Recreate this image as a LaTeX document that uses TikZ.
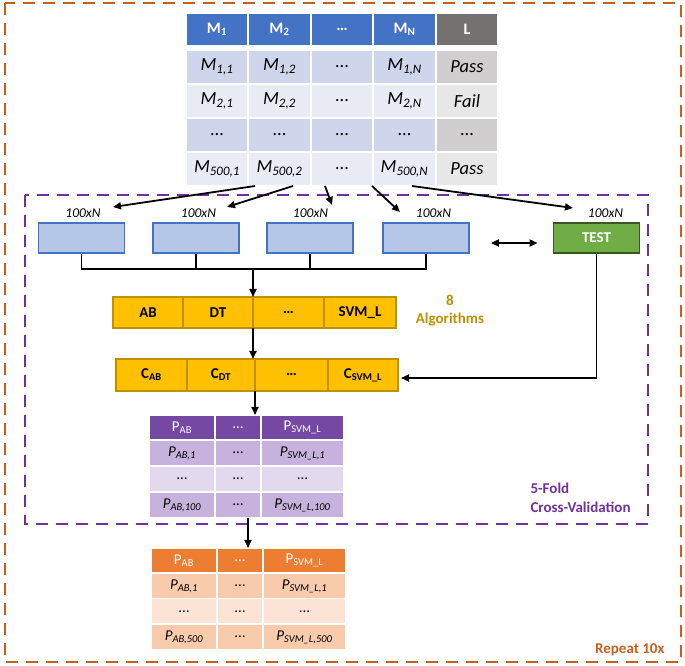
\documentclass[tikz,border=0pt]{standalone}
\usepackage{fontspec}
\setmainfont{Carlito}
\usetikzlibrary{arrows.meta}

\tikzset{
  cell/.style={draw=white, line width=1.5pt, inner sep=0pt, outer sep=0pt},
  topcell/.style={cell, minimum width=62.4pt, minimum height=34pt, font=\fontsize{18.5}{21}\selectfont},
  tophead/.style={topcell, minimum height=33pt, text=white, font=\fontsize{16}{19}\selectfont\bfseries},
  foldbox/.style={draw=hdBlue, line width=1.8pt, fill=boxBlue, minimum width=86pt, minimum height=30pt, inner sep=0pt},
  testbox/.style={foldbox, draw=testDark, fill=testGreen, text=white, font=\fontsize{15}{18}\selectfont\bfseries},
  foldlab/.style={inner sep=0pt, font=\fontsize{13.5}{16}\selectfont\itshape},
  algcell/.style={draw=goldDark, line width=1.8pt, fill=gold, inner sep=0pt, outer sep=0pt, minimum height=31pt, font=\fontsize{15}{18}\selectfont\bfseries},
  pcell/.style={cell, minimum height=26pt, font=\fontsize{15}{18}\selectfont},
  phead/.style={pcell, minimum height=25pt, text=white},
  conn/.style={line width=1.8pt, draw=black},
  arr/.style={conn, -{Triangle[length=8pt,width=7pt]}},
  frame/.style={line width=2.8pt, dash pattern=on 12pt off 8pt}
}

\begin{document}
\begin{tikzpicture}[x=1pt,y=1pt]
\definecolor{hdBlue}{RGB}{68,114,196}
\definecolor{rowBlueA}{RGB}{207,213,234}
\definecolor{rowBlueB}{RGB}{233,235,245}
\definecolor{hdGray}{RGB}{118,113,113}
\definecolor{rowGrayA}{RGB}{208,206,206}
\definecolor{rowGrayB}{RGB}{232,231,231}
\definecolor{boxBlue}{RGB}{180,199,231}
\definecolor{testGreen}{RGB}{112,173,71}
\definecolor{testDark}{RGB}{56,87,35}
\definecolor{gold}{RGB}{255,192,0}
\definecolor{goldDark}{RGB}{191,144,0}
\definecolor{cvPurple}{RGB}{112,48,160}
\definecolor{pHead}{RGB}{117,72,163}
\definecolor{pRowA}{RGB}{199,178,221}
\definecolor{pRowB}{RGB}{227,217,239}
\definecolor{oHead}{RGB}{237,125,49}
\definecolor{oRowA}{RGB}{248,203,173}
\definecolor{oRowB}{RGB}{251,228,213}
\definecolor{repOrange}{RGB}{200,95,30}
\path[use as bounding box,fill=white] (0,0) rectangle (685,666);

% outer and cross-validation frames
\draw[frame,draw=repOrange] (5,663) rectangle (681,4);
\draw[frame,draw=cvPurple] (25,471) rectangle (648,142);

% data table
\node[tophead,fill=hdBlue] (hd1) at (217.0,636.5) {M\textsubscript{1}};
\node[tophead,fill=hdBlue] (hd2) at (279.5,636.5) {M\textsubscript{2}};
\node[tophead,fill=hdBlue] (hd3) at (342.0,636.5) {…};
\node[tophead,fill=hdBlue] (hd4) at (404.5,636.5) {M\textsubscript{N}};
\node[tophead,fill=hdGray] (hd5) at (467.0,636.5) {L};

\node[topcell,fill=rowBlueA] (r1c1) at (217.0,599) {\textit{M\textsubscript{1,1}}};
\node[topcell,fill=rowBlueA] (r1c2) at (279.5,599) {\textit{M\textsubscript{1,2}}};
\node[topcell,fill=rowBlueA] (r1c3) at (342.0,599) {…};
\node[topcell,fill=rowBlueA] (r1c4) at (404.5,599) {\textit{M\textsubscript{1,N}}};
\node[topcell,fill=rowGrayA] (r1c5) at (467.0,599) {\textit{Pass}};

\node[topcell,fill=rowBlueB] (r2c1) at (217.0,565) {\textit{M\textsubscript{2,1}}};
\node[topcell,fill=rowBlueB] (r2c2) at (279.5,565) {\textit{M\textsubscript{2,2}}};
\node[topcell,fill=rowBlueB] (r2c3) at (342.0,565) {…};
\node[topcell,fill=rowBlueB] (r2c4) at (404.5,565) {\textit{M\textsubscript{2,N}}};
\node[topcell,fill=rowGrayB] (r2c5) at (467.0,565) {\textit{Fail}};

\node[topcell,fill=rowBlueA] (r3c1) at (217.0,531) {…};
\node[topcell,fill=rowBlueA] (r3c2) at (279.5,531) {…};
\node[topcell,fill=rowBlueA] (r3c3) at (342.0,531) {…};
\node[topcell,fill=rowBlueA] (r3c4) at (404.5,531) {…};
\node[topcell,fill=rowGrayA] (r3c5) at (467.0,531) {…};

\node[topcell,fill=rowBlueB] (r4c1) at (217.0,497) {\textit{M\textsubscript{500,1}}};
\node[topcell,fill=rowBlueB] (r4c2) at (279.5,497) {\textit{M\textsubscript{500,2}}};
\node[topcell,fill=rowBlueB] (r4c3) at (342.0,497) {…};
\node[topcell,fill=rowBlueB] (r4c4) at (404.5,497) {\textit{M\textsubscript{500,N}}};
\node[topcell,fill=rowGrayB] (r4c5) at (467.0,497) {\textit{Pass}};

% folds
\node[foldbox] (b1) at (81.5,428) {};
\node[foldbox] (b2) at (196.0,428) {};
\node[foldbox] (b3) at (310.0,428) {};
\node[foldbox] (b4) at (426.0,428) {};
\node[testbox] (test) at (596.5,428) {TEST};

\node[foldlab] (lb1) at (83.0,452.5) {100xN};
\node[foldlab] (lb2) at (198.5,452.5) {100xN};
\node[foldlab] (lb3) at (310.5,452.5) {100xN};
\node[foldlab] (lb4) at (433.5,452.5) {100xN};
\node[foldlab] (lb5) at (605.5,452.5) {100xN};

\coordinate (e1) at (113,459);
\coordinate (e2) at (227,459);
\coordinate (e3) at (332,461);
\coordinate (e4) at (400,454);
\coordinate (e5) at (573,458);

\draw[arr] ([xshift=-24.5pt]r4c2.south) -- (e1);
\draw[arr] ([xshift=13.5pt]r4c2.south) -- (e2);
\draw[arr] ([xshift=-17pt]r4c3.south) -- (e3);
\draw[arr] ([xshift=30pt]r4c3.south) -- (e4);
\draw[arr] ([xshift=7.5pt]r4c4.south) -- (e5);

\draw[conn,{Triangle[length=8pt,width=7pt]}-{Triangle[length=8pt,width=7pt]},shorten <=21pt,shorten >=15pt]
  ([yshift=-5pt]b4.east) -- ([yshift=-5pt]test.west);

% algorithms
\node[algcell,minimum width=70pt] (a1) at (148.0,353.5) {AB};
\node[algcell,minimum width=70pt] (a2) at (218.0,353.5) {DT};
\node[algcell,minimum width=71pt] (a3) at (288.5,353.5) {…};
\node[algcell,minimum width=72pt] (a4) at (360.0,353.5) {SVM\_L};

\node[algcell,minimum width=71pt,minimum height=32pt] (c1) at (151.5,291) {C\textsubscript{AB}};
\node[algcell,minimum width=68pt,minimum height=32pt] (c2) at (221.0,291) {C\textsubscript{DT}};
\node[algcell,minimum width=73pt,minimum height=32pt] (c3) at (291.5,291) {…};
\node[algcell,minimum width=70pt,minimum height=32pt] (c4) at (363.0,291) {C\textsubscript{SVM\_L}};

\node[align=center,text=goldDark,font=\fontsize{15}{18}\selectfont\bfseries] (nalg) at (450,355) {8\\Algorithms};

% bus from the folds
\coordinate (bus) at (254,397);
\draw[conn] (b1.south) -- (b1.south |- bus) -- (b4.south |- bus) -- (b4.south);
\draw[conn] (b2.south) -- (b2.south |- bus);
\draw[conn] (b3.south) -- (b3.south |- bus);
\draw[arr] (a2.north east |- bus) -- (a2.north east);
\draw[arr] (a2.south east) -- (a2.south east |- c2.north);
\draw[arr,shorten >=3pt] (test.south) |- ([yshift=-3pt]c4.east);

% fold predictions
\node[phead,fill=pHead,minimum width=66pt] (ph1) at (182.0,238.5) {P\textsubscript{AB}};
\node[phead,fill=pHead,minimum width=46pt] (ph2) at (238.0,238.5) {…};
\node[phead,fill=pHead,minimum width=83pt] (ph3) at (302.5,238.5) {P\textsubscript{SVM\_L}};
\node[pcell,fill=pRowA,minimum width=66pt] (p11) at (182.0,213) {\textit{P\textsubscript{AB,1}}};
\node[pcell,fill=pRowA,minimum width=46pt] (p12) at (238.0,213) {…};
\node[pcell,fill=pRowA,minimum width=83pt] (p13) at (302.5,213) {\textit{P\textsubscript{SVM\_L,1}}};
\node[pcell,fill=pRowB,minimum width=66pt] (p21) at (182.0,187) {…};
\node[pcell,fill=pRowB,minimum width=46pt] (p22) at (238.0,187) {…};
\node[pcell,fill=pRowB,minimum width=83pt] (p23) at (302.5,187) {…};
\node[pcell,fill=pRowA,minimum width=66pt] (p31) at (182.0,161) {\textit{P\textsubscript{AB,100}}};
\node[pcell,fill=pRowA,minimum width=46pt] (p32) at (238.0,161) {…};
\node[pcell,fill=pRowA,minimum width=83pt] (p33) at (302.5,161) {\textit{P\textsubscript{SVM\_L,100}}};

\draw[arr] (c2.south east) -- (c2.south east |- ph2.north);

\node[anchor=west,align=left,text=cvPurple,font=\fontsize{15}{19}\selectfont\bfseries] (ncv) at (527,168.5) {5-Fold\\Cross-Validation};

% all repeats
\node[phead,fill=oHead,minimum width=66pt] (oh1) at (184.0,105.5) {P\textsubscript{AB}};
\node[phead,fill=oHead,minimum width=46pt] (oh2) at (240.0,105.5) {…};
\node[phead,fill=oHead,minimum width=83pt] (oh3) at (304.5,105.5) {P\textsubscript{SVM\_L}};
\node[pcell,fill=oRowA,minimum width=66pt] (o11) at (184.0,80) {\textit{P\textsubscript{AB,1}}};
\node[pcell,fill=oRowA,minimum width=46pt] (o12) at (240.0,80) {…};
\node[pcell,fill=oRowA,minimum width=83pt] (o13) at (304.5,80) {\textit{P\textsubscript{SVM\_L,1}}};
\node[pcell,fill=oRowB,minimum width=66pt] (o21) at (184.0,54.5) {…};
\node[pcell,fill=oRowB,minimum width=46pt] (o22) at (240.0,54.5) {…};
\node[pcell,fill=oRowB,minimum width=83pt] (o23) at (304.5,54.5) {…};
\node[pcell,fill=oRowA,minimum width=66pt] (o31) at (184.0,29) {\textit{P\textsubscript{AB,500}}};
\node[pcell,fill=oRowA,minimum width=46pt] (o32) at (240.0,29) {…};
\node[pcell,fill=oRowA,minimum width=83pt] (o33) at (304.5,29) {\textit{P\textsubscript{SVM\_L,500}}};

\draw[arr] ([xshift=10pt]p32.south) -- ([xshift=10pt]p32.south |- oh2.north);

\node[anchor=east,text=repOrange,font=\fontsize{15}{18}\selectfont\bfseries] (nrep) at (668,16) {Repeat 10x};
\end{tikzpicture}
\end{document}
